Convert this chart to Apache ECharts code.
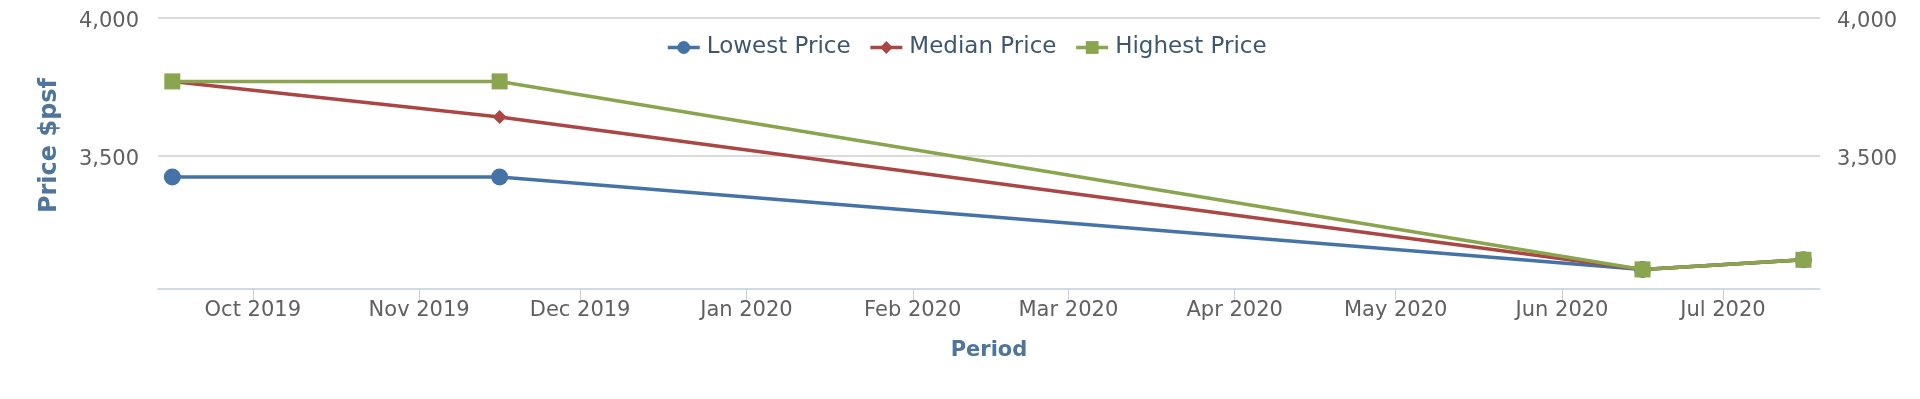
<!DOCTYPE html>
<html>
<head>
<meta charset="utf-8">
<script src="https://cdn.jsdelivr.net/npm/echarts@6/dist/echarts.min.js"></script>
<style>
  html, body { margin: 0; padding: 0; background: #fff; }
  #chart { width: 1920px; height: 399px; }
</style>
</head>
<body>
<div id="chart"></div>
<script>
// data
var periods = ['2019-09-16', '2019-11-16', '2020-06-16', '2020-07-16'];
var lowestPrice = [3423, 3423, 3088, 3123];
var medianPrice = [3770, 3641, 3088, 3123];
var highestPrice = [3770, 3770, 3088, 3123];

var seriesNames = ['Lowest Price', 'Median Price', 'Highest Price'];
var monthTicks = ['2019-10-01', '2019-11-01', '2019-12-01', '2020-01-01', '2020-02-01',
                  '2020-03-01', '2020-04-01', '2020-05-01', '2020-06-01', '2020-07-01'];
var monthNames = ['Jan', 'Feb', 'Mar', 'Apr', 'May', 'Jun', 'Jul', 'Aug', 'Sep', 'Oct', 'Nov', 'Dec'];
var priceTicks = [3500, 4000];
var axisStart = '2019-09-13T08:00:00';
var axisEnd = '2020-07-19T02:00:00';
var priceMin = 3017;
var priceMax = 4000;

var font = '"DejaVu Sans", Verdana, sans-serif';

function toTime(s) {
    if (s.indexOf('T') < 0) s = s + 'T00:00:00';
    return new Date(s).getTime();
}

function pairs(vals) {
    return periods.map(function (p, i) {
        return [toTime(p), vals[i]];
    });
}

var tickTimes = monthTicks.map(toTime);

var priceAxis = function (side) {
    return {
        type: 'value',
        position: side,
        min: priceMin,
        max: priceMax,
        axisLine: { show: false },
        axisTick: { show: false, customValues: priceTicks },
        axisLabel: {
            customValues: priceTicks,
            margin: side == 'left' ? 19 : 17,
            // rich box with top padding nudges the text a little below the grid line
            rich: {
                p: {
                    color: '#606060',
                    fontSize: 21,
                    fontFamily: font,
                    padding: [8, 0, 0, 0]
                }
            },
            formatter: function (v) {
                return '{p|' + v.toLocaleString('en-US') + '}';
            }
        },
        splitLine: {
            show: side == 'left',
            lineStyle: { color: '#cfcfcf', width: 1.5 }
        }
    };
};

var leftAxis = priceAxis('left');
leftAxis.name = 'Price $psf';
leftAxis.nameLocation = 'middle';
leftAxis.nameGap = 96;
leftAxis.nameTextStyle = {
    color: '#4d759e',
    fontWeight: 'bold',
    fontSize: 24,
    fontFamily: font,
    padding: [0, 0, 0, 16]
};

var colors = ['#4572A7', '#AA4643', '#89A54E'];
var symbols = ['circle', 'diamond', 'rect'];
var symbolSizes = [17, 14, 16];
var values = [lowestPrice, medianPrice, highestPrice];

var option = {
    animation: false,
    color: colors,
    grid: { left: 158, right: 100, top: 18, bottom: 110 },
    legend: {
        left: 661,
        top: 31,
        itemWidth: 32,
        itemHeight: 16,
        itemGap: 18,
        lineStyle: { width: 3.5 },
        textStyle: {
            color: '#3E576F',
            fontSize: 23,
            fontFamily: font,
            padding: [0, 0, 0, 2]
        },
        data: seriesNames
    },
    xAxis: {
        // timestamps on a value axis, month labels from the formatter
        type: 'value',
        min: toTime(axisStart),
        max: toTime(axisEnd),
        name: 'Period',
        nameLocation: 'middle',
        nameGap: 51,
        nameTextStyle: {
            color: '#4d759e',
            fontWeight: 'bold',
            fontSize: 21,
            fontFamily: font
        },
        axisLine: { lineStyle: { color: '#C0D0E0', width: 1.5 } },
        axisTick: {
            customValues: tickTimes,
            length: 11,
            lineStyle: { color: '#C0D0E0' }
        },
        axisLabel: {
            customValues: tickTimes,
            color: '#606060',
            fontSize: 21,
            fontFamily: font,
            margin: 11,
            formatter: function (v) {
                var d = new Date(v);
                return monthNames[d.getMonth()] + ' ' + d.getFullYear();
            }
        },
        splitLine: { show: false }
    },
    yAxis: [leftAxis, priceAxis('right')],
    series: seriesNames.map(function (name, i) {
        return {
            name: name,
            type: 'line',
            data: pairs(values[i]),
            symbol: symbols[i],
            symbolSize: symbolSizes[i],
            showAllSymbol: true,
            lineStyle: { width: 3.5, color: colors[i] },
            itemStyle: { color: colors[i] },
            z: 2 + i
        };
    })
};

var chart = echarts.init(document.getElementById('chart'));
chart.setOption(option);
</script>
</body>
</html>
